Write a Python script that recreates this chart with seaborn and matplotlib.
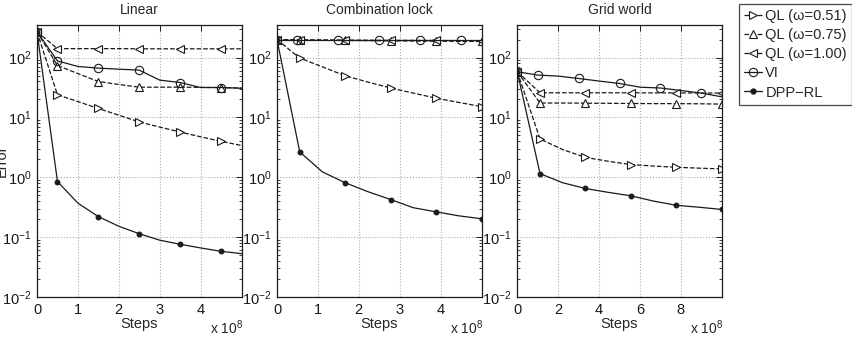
import numpy as np
import pandas as pd
import matplotlib
matplotlib.use("Agg")
import matplotlib.pyplot as plt
import seaborn as sns
from matplotlib.lines import Line2D

sns.set_theme(style="white")
plt.rcParams['font.family'] = ['Liberation Sans', 'DejaVu Sans']
plt.rcParams['mathtext.fontset'] = 'custom'
plt.rcParams['mathtext.rm'] = 'Liberation Sans'
plt.rcParams['mathtext.it'] = 'Liberation Sans'

titles = ["Linear", "Combination lock", "Grid world"]
labels = ["QL (ω=0.51)", "QL (ω=0.75)", "QL (ω=1.00)", "VI", "DPP−RL"]

# ---- Linear (x in units of 1e8) ----
lin_x11 = [0, 0.5, 1.0, 1.5, 2.0, 2.5, 3.0, 3.5, 4.0, 4.5, 5.0]
lin_ql051 = [270, 23.9, 18.4, 14.1, 10.9, 8.4, 6.9, 5.7, 4.75, 3.98, 3.4]
lin_ql075 = [270, 73.6, 54, 39.8, 35.5, 32, 32, 32, 31.8, 31.5, 31]
lin_ql100 = [270, 141, 141, 141, 141, 140, 140, 140, 140, 140, 140]
lin_vi = [270, 88, 71, 66.6, 64, 61.7, 42, 38.3, 31.6, 31.6, 30.7]
lin_dpp = [270, 0.85, 0.37, 0.22, 0.152, 0.114, 0.089, 0.076, 0.066, 0.058, 0.053]

# ---- Combination lock ----
cl_x10 = [0, 0.556, 1.111, 1.667, 2.222, 2.778, 3.333, 3.889, 4.444, 5.0]
cl_x11 = [0, 0.5, 1.0, 1.5, 2.0, 2.5, 3.0, 3.5, 4.0, 4.5, 5.0]
cl_ql051 = [200, 98, 70, 49.5, 39, 31, 25.5, 21, 17.8, 15.2]
cl_ql075 = [200, 197, 195, 193, 192, 190, 189, 188, 187, 186]
cl_ql100 = [200, 198, 197, 196, 195, 194, 194, 193, 192, 192]
cl_vi = [200, 200, 200, 200, 200, 200, 200, 200, 200, 200, 200]
cl_dpp = [200, 2.65, 1.23, 0.81, 0.575, 0.425, 0.31, 0.265, 0.227, 0.203]

# ---- Grid world ----
gw_x10 = [0, 1.111, 2.222, 3.333, 4.444, 5.556, 6.667, 7.778, 8.889, 10.0]
gw_x11 = [0, 1, 2, 3, 4, 5, 6, 7, 8, 9, 10]
gw_ql051 = [58, 4.36, 2.9, 2.15, 1.85, 1.63, 1.54, 1.47, 1.42, 1.38]
gw_ql075 = [58, 17.4, 17.4, 17.3, 17.2, 17.1, 17.0, 17.0, 16.9, 16.7]
gw_ql100 = [58, 25.8, 25.8, 25.8, 25.8, 25.8, 25.7, 25.7, 25.6, 25.5]
gw_vi = [58, 51, 49, 44.7, 40.5, 36.9, 32, 31, 28.2, 25.5, 22.1]
gw_dpp = [58, 1.15, 0.81, 0.65, 0.56, 0.49, 0.40, 0.34, 0.316, 0.29]

panels = [
    dict(xql=lin_x11, xvi=lin_x11, xd=lin_x11, ql=[lin_ql051, lin_ql075, lin_ql100], vi=lin_vi, dpp=lin_dpp,
         xlim=5, xticks=[0, 1, 2, 3, 4]),
    dict(xql=cl_x10, xvi=cl_x11, xd=cl_x10, ql=[cl_ql051, cl_ql075, cl_ql100], vi=cl_vi, dpp=cl_dpp,
         xlim=5, xticks=[0, 1, 2, 3, 4]),
    dict(xql=gw_x10, xvi=gw_x11, xd=gw_x10, ql=[gw_ql051, gw_ql075, gw_ql100], vi=gw_vi, dpp=gw_dpp,
         xlim=10, xticks=[0, 2, 4, 6, 8]),
]

ql_markers = ['>', '^', '<']
mevery = [0, 1, 3, 5, 7, 9]

fig = plt.figure(figsize=(8.52, 3.42), dpi=100)
W, H = 852, 342
lefts = [37, 277, 517.3]
ax_w, top, bottom = 204.5, 25, 297

for i, p in enumerate(panels):
    ax = fig.add_axes([lefts[i] / W, (H - bottom) / H, ax_w / W, (bottom - top) / H])
    for j in range(3):
        sns.lineplot(x=p['xql'], y=p['ql'][j], ax=ax, color='k', linestyle='--', lw=0.9,
                     marker=ql_markers[j], markersize=6, mfc='white', mec='k', mew=0.8,
                     markevery=mevery, estimator=None, sort=False, legend=False)
    sns.lineplot(x=p['xvi'], y=p['vi'], ax=ax, color='k', linestyle='-', lw=0.9,
                 marker='o', markersize=6, mfc='none', mec='k', mew=0.8,
                 markevery=mevery, estimator=None, sort=False, legend=False)
    sns.lineplot(x=p['xd'], y=p['dpp'], ax=ax, color='k', linestyle='-', lw=0.9,
                 marker='o', markersize=3.5, mfc='k', mec='k',
                 markevery=mevery, estimator=None, sort=False, legend=False)
    ax.set_yscale('log')
    ax.set_ylim(1e-2, 350)
    ax.set_xlim(0, p['xlim'])
    ax.set_xticks(p['xticks'])
    ax.set_yticks([1e-2, 1e-1, 1e0, 1e1, 1e2])
    ax.tick_params(axis='both', which='both', direction='in', top=True, right=True,
                   labelsize=10.5, colors='k', pad=4)
    ax.tick_params(axis='both', which='major', length=4, width=0.7)
    ax.tick_params(axis='y', which='minor', length=2, width=0.6, left=True, right=True)
    ax.yaxis.set_minor_locator(matplotlib.ticker.LogLocator(base=10, subs=np.arange(2, 10), numticks=20))
    ax.yaxis.set_minor_formatter(matplotlib.ticker.NullFormatter())
    ax.grid(True, which='major', linestyle=':', color='#aaaaaa', lw=0.8)
    for s in ax.spines.values():
        s.set_color('k')
        s.set_linewidth(0.9)
    ax.set_title(titles[i], fontsize=10, pad=8)
    ax.set_xlabel("Steps", fontsize=10.5, labelpad=0)
    ax.set_ylabel("")
    ax.text(1.01, -(334 - bottom) / (bottom - top), r"x 10$^{8}$", transform=ax.transAxes,
            ha='right', va='baseline', fontsize=10)

fig.text(2 / W, 0.53, "Error", rotation=90, ha='center', va='center', fontsize=10.5)

handles = [
    Line2D([], [], color='k', ls='--', lw=0.9, marker='>', ms=6, mfc='white', mec='k', mew=0.8),
    Line2D([], [], color='k', ls='--', lw=0.9, marker='^', ms=6, mfc='white', mec='k', mew=0.8),
    Line2D([], [], color='k', ls='--', lw=0.9, marker='<', ms=6, mfc='white', mec='k', mew=0.8),
    Line2D([], [], color='k', ls='-', lw=0.9, marker='o', ms=6, mfc='none', mec='k', mew=0.8),
    Line2D([], [], color='k', ls='-', lw=0.9, marker='o', ms=3.5, mfc='k', mec='k'),
]
leg = fig.legend(handles, labels, loc='upper right', bbox_to_anchor=(1.0, 1 - 4 / H),
                 borderaxespad=0, fontsize=10.5, handlelength=1.2, handletextpad=0.25,
                 labelspacing=0.35, borderpad=0.35, fancybox=False, frameon=True)
leg.get_frame().set_edgecolor('k')
leg.get_frame().set_linewidth(0.9)

fig.savefig("out.png", dpi=100)
